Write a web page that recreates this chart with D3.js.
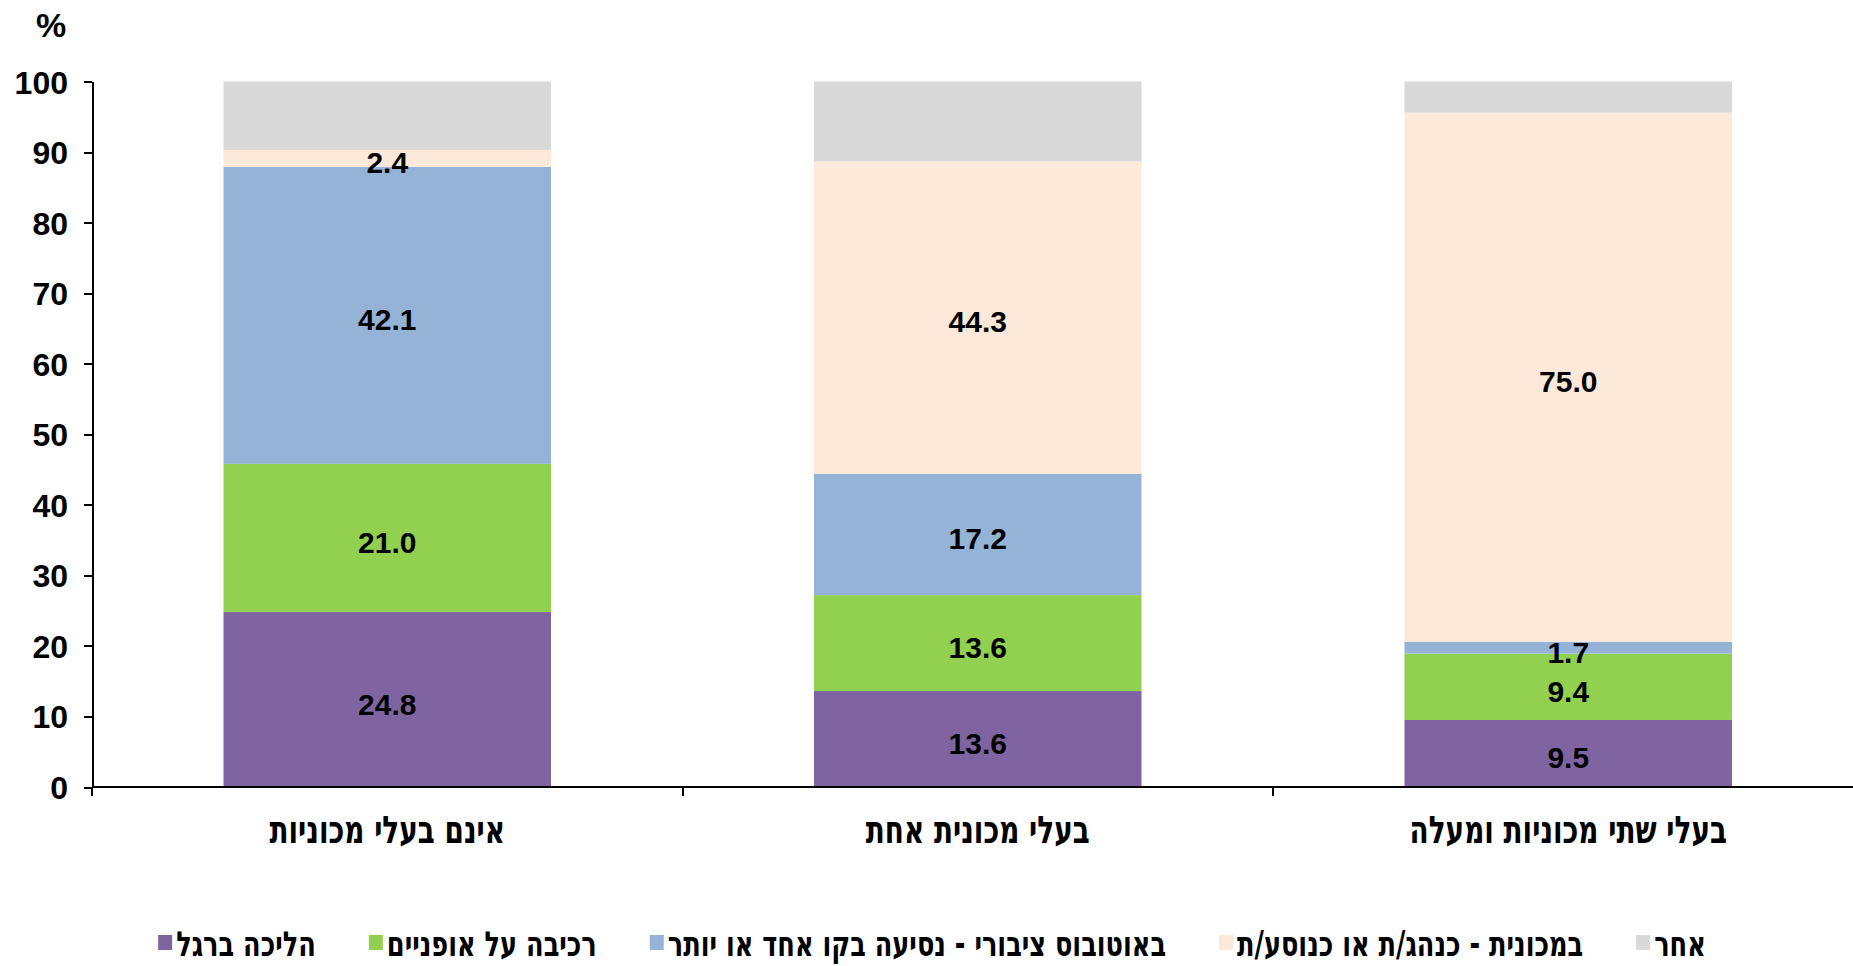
<!DOCTYPE html>
<html>
<head>
<meta charset="utf-8" />
<script src="https://d3js.org/d3.v7.min.js"></script>
<style>
	body { margin: 0; background: #fff; }
	svg text { font-family: "Liberation Sans", Arial, sans-serif; font-weight: bold; fill: #000; }
	svg text.heb { font-family: "DejaVu Sans Condensed", "DejaVu Sans", sans-serif; font-weight: bold; }
	.axis path, .axis line { stroke: #000; stroke-width: 2; shape-rendering: crispEdges; }
</style>
</head>
<body>
<div id="chart"></div>
<script>
	// categories (left to right) and stack series (bottom to top)
	var categories = ["אינם בעלי מכוניות", "בעלי מכונית אחת", "בעלי שתי מכוניות ומעלה"];
	var seriesNames = ["הליכה ברגל", "רכיבה על אופניים", "באוטובוס ציבורי - נסיעה בקו אחד או יותר", "במכונית - כנהג/ת או כנוסע/ת", "אחר"];
	var walk = [24.8, 13.6, 9.5];
	var bike = [21.0, 13.6, 9.4];
	var bus = [42.1, 17.2, 1.7];
	var car = [2.4, 44.3, 75.0];
	var other = [9.7, 11.3, 4.4];
	var yTicks = [0, 10, 20, 30, 40, 50, 60, 70, 80, 90, 100];
	var colors = ["#8064A2", "#92D050", "#95B3D7", "#FDE9D9", "#D9D9D9"];

	var W = 1853, H = 966;
	var plotLeft = 92, plotBottom = 787, plotTop = 81.5, step = 590.5;
	var hebStretch = 1.22; // the Hebrew font here is shorter than the original's

	var rows = categories.map(function (c, i) {
		return { cat: c, s0: walk[i], s1: bike[i], s2: bus[i], s3: car[i], s4: other[i] };
	});
	var keys = ["s0", "s1", "s2", "s3", "s4"];
	var stacked = d3.stack().keys(keys)(rows);

	var svg = d3.select("#chart").append("svg")
		.attr("width", W)
		.attr("height", H);

	var x = d3.scaleBand()
		.domain(categories)
		.range([plotLeft, plotLeft + step * categories.length])
		.paddingInner(0.4454)
		.paddingOuter(0.2227);

	var y = d3.scaleLinear()
		.domain([0, 100])
		.range([plotBottom, plotTop]);

	// bars
	var layer = svg.selectAll(".layer")
		.data(stacked)
		.enter().append("g")
		.attr("class", "layer")
		.attr("fill", function (d, i) { return colors[i]; });

	layer.selectAll("rect")
		.data(function (d) { return d; })
		.enter().append("rect")
		.attr("x", function (d) { return x(d.data.cat); })
		.attr("width", x.bandwidth())
		.attr("y", function (d) { return y(d[1]); })
		.attr("height", function (d) { return y(d[0]) - y(d[1]); });

	// value labels (not for "other")
	layer.filter(function (d, i) { return i < 4; })
		.selectAll("text")
		.data(function (d) { return d; })
		.enter().append("text")
		.attr("x", function (d) { return x(d.data.cat) + x.bandwidth() / 2; })
		.attr("y", function (d) { return y((d[0] + d[1]) / 2); })
		.attr("dy", "0.5em")
		.attr("text-anchor", "middle")
		.style("font-size", "30px")
		.text(function (d) { return (d[1] - d[0]).toFixed(1); });

	// y axis
	svg.append("g")
		.attr("class", "axis")
		.attr("transform", "translate(" + plotLeft + ",0)")
		.call(d3.axisLeft(y).tickValues(yTicks).tickSize(8).tickSizeOuter(0).tickPadding(16))
		.selectAll("text")
		.style("font-size", "32px")
		.attr("dy", "0.36em");

	// x axis line with ticks at the category boundaries
	var xAxis = svg.append("g").attr("class", "axis");
	xAxis.append("line")
		.attr("x1", plotLeft).attr("x2", W)
		.attr("y1", plotBottom).attr("y2", plotBottom);
	xAxis.selectAll(".bound")
		.data(d3.range(categories.length + 1))
		.enter().append("line")
		.attr("class", "bound")
		.attr("x1", function (i) { return x.range()[0] + i * x.step(); })
		.attr("x2", function (i) { return x.range()[0] + i * x.step(); })
		.attr("y1", plotBottom).attr("y2", plotBottom + 9);

	svg.selectAll(".cat")
		.data(categories)
		.enter().append("text")
		.attr("class", "cat heb")
		.attr("transform", function (d) {
			return "translate(" + (x(d) + x.bandwidth() / 2) + ",843) scale(1," + hebStretch + ")";
		})
		.attr("text-anchor", "middle")
		.style("font-size", "31px")
		.text(function (d) { return d; });

	// unit label
	svg.append("text")
		.attr("x", 51)
		.attr("y", 37)
		.attr("text-anchor", "middle")
		.style("font-size", "34px")
		.text("%");

	// legend, laid out left to right and centred
	var legend = svg.append("g");
	var items = legend.selectAll(".legend")
		.data(seriesNames)
		.enter().append("g")
		.attr("class", "legend");
	items.append("rect")
		.attr("width", 14).attr("height", 15)
		.attr("y", 935)
		.attr("fill", function (d, i) { return colors[i]; });
	items.append("text")
		.attr("class", "heb")
		.attr("transform", "translate(18,956) scale(1," + hebStretch + ")")
		.style("font-size", "28.5px")
		.text(function (d) { return d; });

	var cursor = 0;
	items.each(function () {
		var g = d3.select(this);
		var w = g.select("text").node().getComputedTextLength();
		g.attr("transform", "translate(" + cursor + ",0)");
		cursor += 18 + w + 53;
	});
	var total = cursor - 53;
	legend.attr("transform", "translate(" + (932 - total / 2) + ",0)");
</script>
</body>
</html>
